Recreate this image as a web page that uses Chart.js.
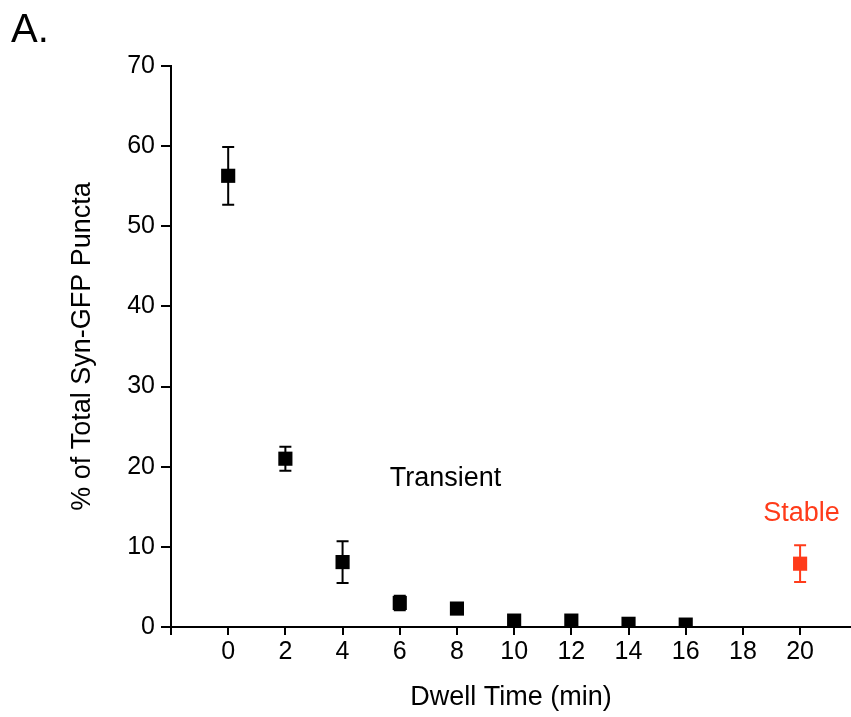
<!DOCTYPE html>
<html>
<head>
<meta charset="utf-8">
<script src="https://cdn.jsdelivr.net/npm/chart.js@4/dist/chart.umd.min.js"></script>
<style>
html,body{margin:0;padding:0;background:#fff;}
#c{display:block;}
</style>
</head>
<body>
<canvas id="c" width="851" height="717"></canvas>
<script>
// Data
const transientX = [0, 2, 4, 6, 8, 10, 12, 14, 16];
const transientY = [56.3, 21.0, 8.1, 3.0, 2.3, 0.8, 0.8, 0.4, 0.3];
const transientErr = [3.6, 1.5, 2.6, 0.9, 0, 0, 0, 0, 0];
const stableX = [20];
const stableY = [7.9];
const stableErr = [2.3];
const xTickValues = [-2, 0, 2, 4, 6, 8, 10, 12, 14, 16, 18, 20];
const yTickValues = [0, 10, 20, 30, 40, 50, 60, 70];
const annotations = [
  {text: 'Transient', x: 7.6, y: 18.5, color: '#000000'},
  {text: 'Stable', x: 20.05, y: 14.2, color: '#ff3b1a'}
];

const RED = '#ff3b1a';
const FONT = '"Liberation Sans", Arial, sans-serif';

function pts(xs, ys, es) {
  return xs.map((x, i) => ({x: x, y: ys[i], err: es[i]}));
}

const errorBars = {
  id: 'errorBars',
  afterDatasetsDraw(chart) {
    const ctx = chart.ctx;
    const xs = chart.scales.x, ys = chart.scales.y;
    chart.data.datasets.forEach((ds) => {
      ctx.save();
      ctx.strokeStyle = ds.borderColor;
      ctx.lineWidth = 2;
      ds.data.forEach((p) => {
        if (!p.err) return;
        const px = xs.getPixelForValue(p.x);
        const top = ys.getPixelForValue(p.y + p.err);
        const bot = ys.getPixelForValue(p.y - p.err);
        ctx.beginPath();
        ctx.moveTo(px, top); ctx.lineTo(px, bot);
        ctx.moveTo(px - 6, top); ctx.lineTo(px + 6, top);
        ctx.moveTo(px - 6, bot); ctx.lineTo(px + 6, bot);
        ctx.stroke();
      });
      ctx.restore();
    });
  }
};

const textPlugin = {
  id: 'textPlugin',
  afterDraw(chart) {
    const ctx = chart.ctx;
    const xs = chart.scales.x, ys = chart.scales.y;
    ctx.save();
    ctx.textAlign = 'center';
    ctx.textBaseline = 'middle';
    ctx.font = '27px ' + FONT;
    annotations.forEach(a => {
      ctx.fillStyle = a.color;
      ctx.fillText(a.text, xs.getPixelForValue(a.x), ys.getPixelForValue(a.y));
    });
    ctx.fillStyle = '#000';
    ctx.textAlign = 'left';
    ctx.textBaseline = 'alphabetic';
    ctx.font = '40px ' + FONT;
    ctx.fillText('A.', 11, 42);
    ctx.restore();
  }
};

new Chart(document.getElementById('c'), {
  type: 'scatter',
  data: {
    datasets: [
      {
        label: 'Transient',
        data: pts(transientX, transientY, transientErr),
        backgroundColor: '#000000',
        borderColor: '#000000',
        pointStyle: 'rect',
        pointRadius: 10,
        pointHoverRadius: 10,
        borderWidth: 0
      },
      {
        label: 'Stable',
        data: pts(stableX, stableY, stableErr),
        backgroundColor: RED,
        borderColor: RED,
        pointStyle: 'rect',
        pointRadius: 10,
        pointHoverRadius: 10,
        borderWidth: 0
      }
    ]
  },
  options: {
    responsive: false,
    animation: false,
    layout: {autoPadding: false, padding: {top: 66, right: 0, left: 66, bottom: 0}},
    plugins: {legend: {display: false}, tooltip: {enabled: false}},
    scales: {
      x: {
        type: 'linear',
        min: -2,
        max: 21.78,
        afterBuildTicks(s) { s.ticks = xTickValues.map(v => ({value: v})); },
        afterFit(s) { s.height = 90; s.paddingRight = 0; s.paddingLeft = 0; },
        border: {color: '#000', width: 2},
        grid: {display: true, drawOnChartArea: false, color: '#000', lineWidth: 2, tickLength: 8},
        ticks: {
          color: '#000',
          font: {family: FONT, size: 25},
          padding: 2,
          maxRotation: 0,
          autoSkip: false,
          callback: (v) => v < 0 ? '' : String(v)
        },
        title: {
          display: true,
          text: 'Dwell Time (min)',
          color: '#000',
          font: {family: FONT, size: 27},
          padding: {top: 4, bottom: 3}
        }
      },
      y: {
        type: 'linear',
        min: 0,
        max: 70,
        afterBuildTicks(s) { s.ticks = yTickValues.map(v => ({value: v})); },
        afterFit(s) { s.width = 105; s.paddingTop = 0; s.paddingBottom = 0; },
        border: {color: '#000', width: 2},
        grid: {display: true, drawOnChartArea: false, color: '#000', lineWidth: 2, tickLength: 10},
        ticks: {
          color: '#000',
          font: {family: FONT, size: 25},
          padding: 6
        },
        title: {
          display: true,
          text: '% of Total Syn-GFP Puncta',
          color: '#000',
          font: {family: FONT, size: 27},
          padding: {top: 0, bottom: 0}
        }
      }
    }
  },
  plugins: [errorBars, textPlugin]
});
</script>
</body>
</html>
